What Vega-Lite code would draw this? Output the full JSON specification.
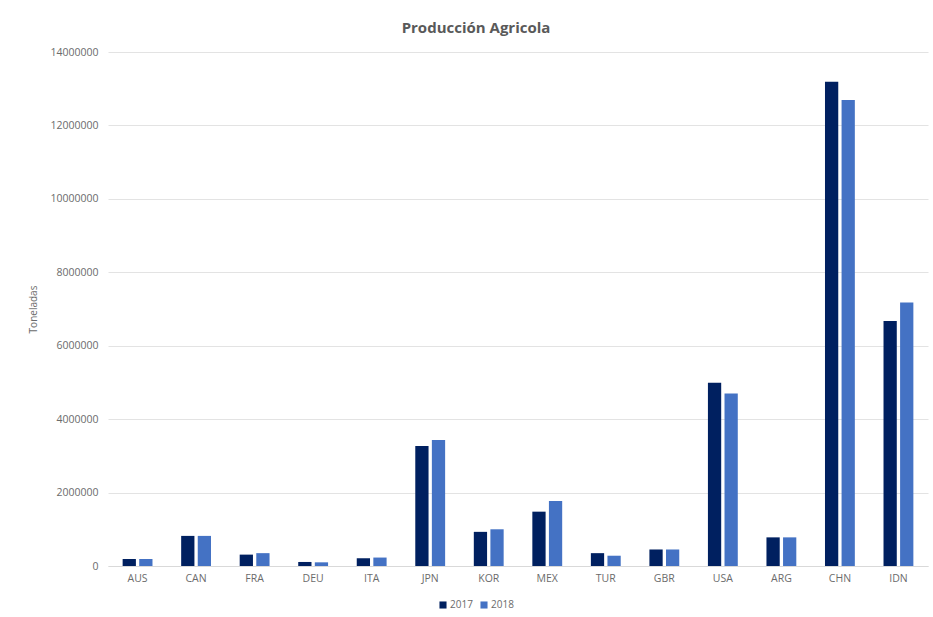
{
  "$schema": "https://vega.github.io/schema/vega-lite/v6.json",
  "width": 820,
  "height": 514,
  "autosize": {"type": "none"},
  "padding": {"left": 108, "top": 52, "right": 5, "bottom": 51},
  "background": "white",
  "title": {
    "text": "Producción Agricola",
    "font": "Open Sans",
    "fontSize": 15,
    "fontWeight": "bold",
    "color": "#595959",
    "anchor": "middle",
    "dx": -42,
    "offset": 11
  },
  "data": {
    "values": [
      {"pais": "AUS", "anio": "2017", "toneladas": 190000},
      {"pais": "AUS", "anio": "2018", "toneladas": 190000},
      {"pais": "CAN", "anio": "2017", "toneladas": 820000},
      {"pais": "CAN", "anio": "2018", "toneladas": 820000},
      {"pais": "FRA", "anio": "2017", "toneladas": 310000},
      {"pais": "FRA", "anio": "2018", "toneladas": 350000},
      {"pais": "DEU", "anio": "2017", "toneladas": 110000},
      {"pais": "DEU", "anio": "2018", "toneladas": 100000},
      {"pais": "ITA", "anio": "2017", "toneladas": 210000},
      {"pais": "ITA", "anio": "2018", "toneladas": 230000},
      {"pais": "JPN", "anio": "2017", "toneladas": 3270000},
      {"pais": "JPN", "anio": "2018", "toneladas": 3430000},
      {"pais": "KOR", "anio": "2017", "toneladas": 930000},
      {"pais": "KOR", "anio": "2018", "toneladas": 1000000},
      {"pais": "MEX", "anio": "2017", "toneladas": 1480000},
      {"pais": "MEX", "anio": "2018", "toneladas": 1770000},
      {"pais": "TUR", "anio": "2017", "toneladas": 350000},
      {"pais": "TUR", "anio": "2018", "toneladas": 280000},
      {"pais": "GBR", "anio": "2017", "toneladas": 450000},
      {"pais": "GBR", "anio": "2018", "toneladas": 450000},
      {"pais": "USA", "anio": "2017", "toneladas": 4990000},
      {"pais": "USA", "anio": "2018", "toneladas": 4700000},
      {"pais": "ARG", "anio": "2017", "toneladas": 780000},
      {"pais": "ARG", "anio": "2018", "toneladas": 780000},
      {"pais": "CHN", "anio": "2017", "toneladas": 13190000},
      {"pais": "CHN", "anio": "2018", "toneladas": 12690000},
      {"pais": "IDN", "anio": "2017", "toneladas": 6670000},
      {"pais": "IDN", "anio": "2018", "toneladas": 7180000}
    ]
  },
  "mark": {"type": "bar"},
  "encoding": {
    "x": {
      "field": "pais",
      "type": "nominal",
      "sort": null,
      "scale": {"paddingInner": 0.49, "paddingOuter": 0.25},
      "axis": {
        "title": null,
        "labelAngle": 0,
        "labelFont": "Open Sans",
        "labelFontSize": 10.5,
        "labelColor": "#6b6b6b",
        "labelPadding": 7,
        "ticks": false,
        "domainColor": "#d9d9d9",
        "domainWidth": 1,
        "grid": false
      }
    },
    "xOffset": {
      "field": "anio",
      "type": "nominal",
      "scale": {"paddingInner": 0.2}
    },
    "y": {
      "field": "toneladas",
      "type": "quantitative",
      "scale": {"domain": [0, 14000000], "nice": false},
      "axis": {
        "title": "Toneladas",
        "titleFont": "Open Sans",
        "titleFontSize": 10,
        "titleFontWeight": "normal",
        "titleColor": "#6b6b6b",
        "titleX": -70,
        "titleY": 257,
        "values": [0, 2000000, 4000000, 6000000, 8000000, 10000000, 12000000, 14000000],
        "format": "d",
        "labelFont": "Open Sans",
        "labelFontSize": 10.5,
        "labelColor": "#6b6b6b",
        "labelPadding": 10,
        "ticks": false,
        "domain": false,
        "gridColor": "#e3e3e3",
        "gridWidth": 1
      }
    },
    "color": {
      "field": "anio",
      "type": "nominal",
      "scale": {"domain": ["2017", "2018"], "range": ["#002060", "#4472C4"]},
      "legend": {
        "title": null,
        "orient": "none",
        "direction": "horizontal",
        "legendX": 330,
        "legendY": 548,
        "symbolType": "square",
        "symbolSize": 50,
        "symbolStrokeWidth": 0,
        "labelFont": "Open Sans",
        "labelFontSize": 10,
        "labelColor": "#6b6b6b",
        "labelOffset": 2,
        "columnPadding": 6
      }
    }
  },
  "config": {
    "view": {"stroke": null}
  }
}
